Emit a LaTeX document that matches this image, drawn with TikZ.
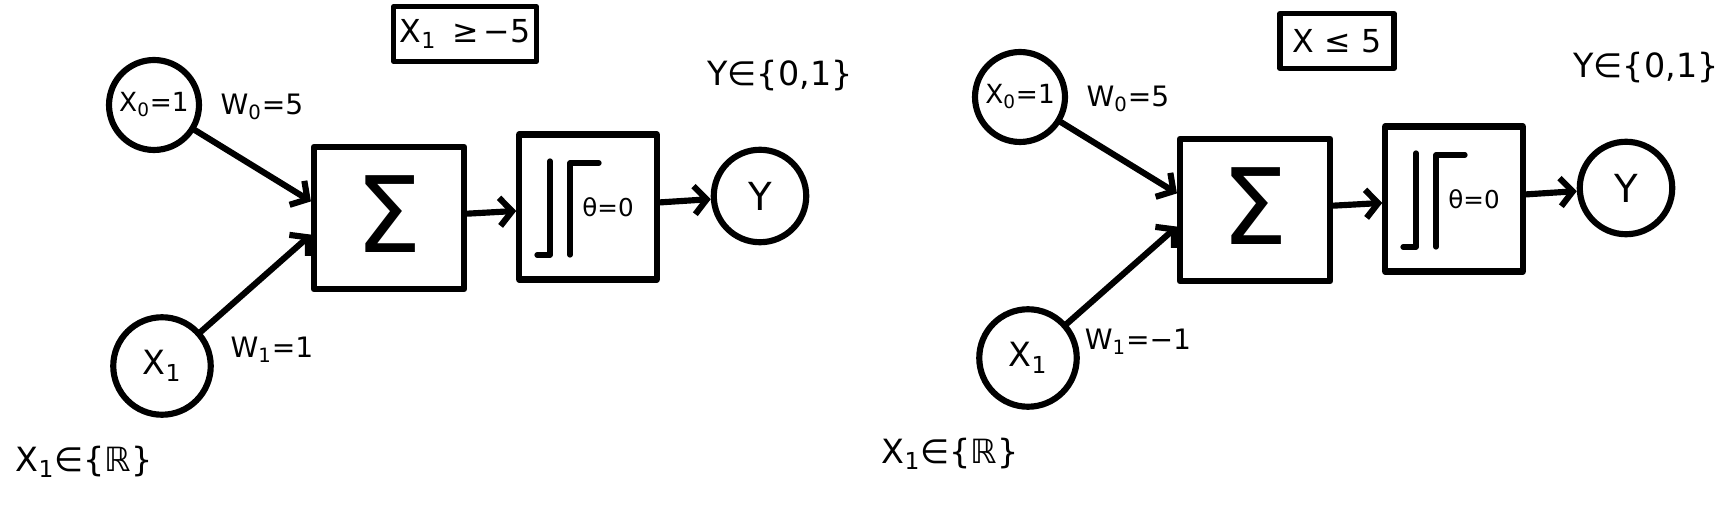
\documentclass[tikz,border=0pt]{standalone}
\usepackage{fontspec}
\setmainfont{DejaVu Sans}
\usetikzlibrary{positioning, arrows.meta, calc}

\tikzset{
  unit/.style={circle, draw, line width=3.5pt, minimum size=1.8cm, inner sep=0pt, font=\fontsize{15}{15}\selectfont},
  block/.style={rectangle, draw, line width=3.5pt, inner sep=0pt},
  conn/.style={line width=3.5pt, -{Straight Barb[length=7pt,width=16pt]}},
  lbl/.style={font=\fontsize{16}{16}\selectfont},
  setlbl/.style={font=\fontsize{19}{19}\selectfont},
}

\begin{document}
\begin{tikzpicture}[x=0.02cm, y=-0.02cm, line cap=round, line join=round]
  \useasboundingbox (0,0) rectangle (1723,519);
  \foreach \i/\dx/\dy/\cx/\cy/\cw/\cond/\wone in {
      a/0/0/465/34/2.85/{X\textsubscript{1}\enspace≥\,−5}/{W\textsubscript{1}=1},
      b/866/-8/471/49/2.28/{X ≤ 5}/{W\textsubscript{1}=−1}}{
    \begin{scope}[shift={(\dx,\dy)}]
      % inputs and output
      \node[unit] (x0\i) at (154,105) {X\textsubscript{0}=1};
      \node[unit, minimum size=1.95cm, font=\fontsize{19}{19}\selectfont] (x1\i) at (162,366) {X\textsubscript{1}};
      \node[unit, minimum size=1.85cm, font=\fontsize{22}{22}\selectfont] (y\i) at (760,196) {Y};
      % sum and step blocks
      \node[block, minimum width=3cm, minimum height=2.85cm] (sum\i) at (389,218) {\raisebox{4pt}{\fontsize{60}{60}\selectfont Σ}};
      \node[block, minimum width=2.75cm, minimum height=2.9cm] (step\i) at (588,207) {};
      \draw[line width=3pt, shift={(step\i.center)}]
        (-51,48) -- (-38,48) -- (-38,-46)
        (-18,48) -- (-18,-44) -- (11,-44);
      \node[font=\fontsize{14}{14}\selectfont] (theta\i) at ([shift={(20,0)}]step\i.center) {θ=0};
      % labels
      \node[lbl] (w0\i) at (262,107) {W\textsubscript{0}=5};
      \node[lbl] (w1\i) at (272,350) {\wone};
      \node[setlbl] (yset\i) at (780,76) {Y∈\{0,1\}};
      \node[setlbl] (xset\i) at (84,462) {X\textsubscript{1}∈\{ℝ\}};
      \node[block, line width=3pt, minimum width=\cw cm, minimum height=1.1cm, font=\fontsize{18}{18}\selectfont] (cond\i) at (\cx,\cy) {\cond};
      % connectors
      \draw[conn] (x0\i) -- (sum\i.168);
      \draw[conn] (x1\i) -- (sum\i.192);
      \draw[conn] (sum\i) -- (step\i);
      \draw[conn] (step\i) -- (y\i);
    \end{scope}
  }
\end{tikzpicture}
\end{document}
